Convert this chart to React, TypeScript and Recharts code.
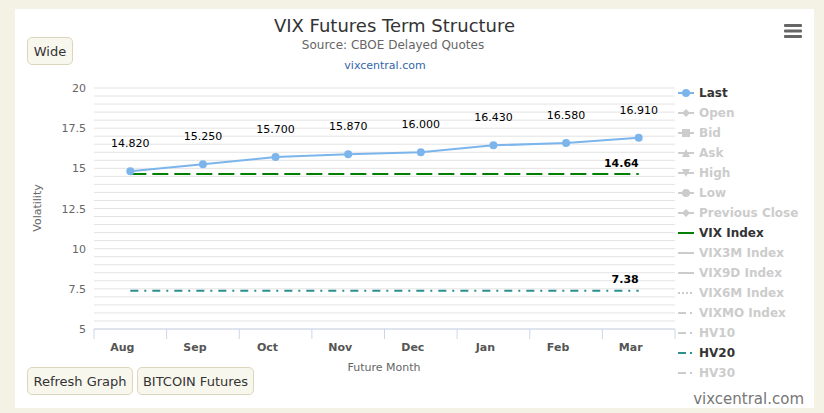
import React from 'react';
import { LineChart, Line, XAxis, YAxis, CartesianGrid, LabelList } from 'recharts';

const months = ['Aug', 'Sep', 'Oct', 'Nov', 'Dec', 'Jan', 'Feb', 'Mar'];
const lastValues = [14.82, 15.25, 15.7, 15.87, 16.0, 16.43, 16.58, 16.91];
const vixIndex = [14.64, 14.64, 14.64, 14.64, 14.64, 14.64, 14.64, 14.64];
const hv20 = [7.38, 7.38, 7.38, 7.38, 7.38, 7.38, 7.38, 7.38];

const yLabelTicks = [5, 7.5, 10, 12.5, 15, 17.5, 20];
const yGridTicks: number[] = [];
for (let v = 5; v <= 20.001; v += 0.5) yGridTicks.push(Math.round(v * 10) / 10);

const legendItems = [
  { name: 'Last', kind: 'circle', active: true, color: '#7cb5ec' },
  { name: 'Open', kind: 'diamond', active: false },
  { name: 'Bid', kind: 'square', active: false },
  { name: 'Ask', kind: 'triangle', active: false },
  { name: 'High', kind: 'triangle-down', active: false },
  { name: 'Low', kind: 'circle', active: false },
  { name: 'Previous Close', kind: 'diamond', active: false },
  { name: 'VIX Index', kind: 'solid', active: true, color: '#008000' },
  { name: 'VIX3M Index', kind: 'solid', active: false },
  { name: 'VIX9D Index', kind: 'solid', active: false },
  { name: 'VIX6M Index', kind: 'dot', active: false },
  { name: 'VIXMO Index', kind: 'dashdot', active: false },
  { name: 'HV10', kind: 'dashdot', active: false },
  { name: 'HV20', kind: 'dashdot', active: true, color: '#2b908f' },
  { name: 'HV30', kind: 'dashdot', active: false },
];

const data = months.map((m, i) => ({
  month: m,
  last: lastValues[i],
  vix: vixIndex[i],
  hv20: hv20[i],
}));

const FONT = '"DejaVu Sans", Verdana, sans-serif';
const BAND = (675 - 94) / months.length;

function XTick(props: any) {
  const { x, y, payload, index } = props;
  return (
    <g>
      <line x1={x - BAND / 2} x2={x - BAND / 2} y1={y - 8} y2={y + 2} stroke="#ccd6eb" />
      {index === months.length - 1 && (
        <line x1={x + BAND / 2} x2={x + BAND / 2} y1={y - 8} y2={y + 2} stroke="#ccd6eb" />
      )}
      <text x={x - 8} y={y + 14} textAnchor="middle" fontSize={11} fontWeight="bold" fill="#555" fontFamily={FONT}>
        {payload.value}
      </text>
    </g>
  );
}

function YTick(props: any) {
  const { x, y, payload } = props;
  if (!yLabelTicks.includes(payload.value)) return null;
  return (
    <text x={x} y={y + 4} textAnchor="end" fontSize={11} fill="#666" fontFamily={FONT}>
      {String(payload.value)}
    </text>
  );
}

function LegendMarker({ kind, color }: { kind: string; color: string }) {
  const c = color;
  let dash: string | undefined;
  if (kind === 'dot') dash = '2 2';
  if (kind === 'dashdot') dash = '8 4 2 4';
  return (
    <svg width={18} height={12} style={{ display: 'block' }}>
      <line x1={0} x2={16} y1={6} y2={6} stroke={c} strokeWidth={2} strokeDasharray={dash} />
      {kind === 'circle' && <circle cx={8} cy={6} r={4} fill={c} />}
      {kind === 'diamond' && <path d="M8 2 L12 6 L8 10 L4 6 Z" fill={c} />}
      {kind === 'square' && <rect x={4} y={2} width={8} height={8} fill={c} />}
      {kind === 'triangle' && <path d="M8 2 L12 10 L4 10 Z" fill={c} />}
      {kind === 'triangle-down' && <path d="M4 2 L12 2 L8 10 Z" fill={c} />}
    </svg>
  );
}

function Button({ label, left, top, width }: { label: string; left: number; top: number; width: number }) {
  return (
    <div
      style={{
        position: 'absolute',
        left,
        top,
        width,
        height: 28,
        boxSizing: 'border-box',
        border: '1px solid #ddd6bd',
        borderRadius: 5,
        background: '#f8f7ee',
        fontFamily: FONT,
        fontSize: 13,
        color: '#333',
        display: 'flex',
        alignItems: 'center',
        justifyContent: 'center',
      }}
    >
      {label}
    </div>
  );
}

export default function App() {
  return (
    <div style={{ position: 'absolute', left: 0, top: 0, width: 824, height: 413, background: '#f4f2e4', overflow: 'hidden' }}>
      <div style={{ position: 'absolute', left: 15, top: 9, width: 799, height: 399, background: '#fff' }} />

      <LineChart
        width={824}
        height={413}
        data={data}
        margin={{ top: 88, right: 149, bottom: 54, left: 34 }}
        style={{ position: 'absolute', left: 0, top: 0 }}
      >
        <CartesianGrid horizontal vertical={false} stroke="#e3e3e3" />
        <XAxis
          dataKey="month"
          height={30}
          stroke="#ccd6eb"
          tickLine={false}
          tick={<XTick />}
          padding={{ left: BAND / 2, right: BAND / 2 }}
          interval={0}
        />
        <YAxis
          width={60}
          domain={[5, 20]}
          ticks={yGridTicks}
          interval={0}
          axisLine={false}
          tickLine={false}
          tick={<YTick />}
          type="number"
        />
        <Line
          dataKey="vix"
          stroke="#008000"
          strokeWidth={2}
          strokeDasharray="16 6"
          dot={false}
          activeDot={false}
          isAnimationActive={false}
        >
          <LabelList
            dataKey="vix"
            content={(p: any) =>
              p.index === months.length - 1 ? (
                <text x={p.x} y={p.y - 7} textAnchor="end" fontSize={11} fontWeight="bold" fill="#000" fontFamily={FONT}>
                  {Number(p.value).toFixed(2)}
                </text>
              ) : null
            }
          />
        </Line>
        <Line
          dataKey="hv20"
          stroke="#2b908f"
          strokeWidth={2}
          strokeDasharray="8 6 2 6"
          dot={false}
          activeDot={false}
          isAnimationActive={false}
        >
          <LabelList
            dataKey="hv20"
            content={(p: any) =>
              p.index === months.length - 1 ? (
                <text x={p.x} y={p.y - 8} textAnchor="end" fontSize={11} fontWeight="bold" fill="#000" fontFamily={FONT}>
                  {Number(p.value).toFixed(2)}
                </text>
              ) : null
            }
          />
        </Line>
        <Line
          dataKey="last"
          stroke="#7cb5ec"
          strokeWidth={2}
          dot={{ r: 4, fill: '#7cb5ec', stroke: 'none' }}
          activeDot={false}
          isAnimationActive={false}
        >
          <LabelList
            dataKey="last"
            content={(p: any) => (
              <text x={p.x} y={p.y - 24} textAnchor="middle" fontSize={11} fill="#000" fontFamily={FONT}>
                {Number(p.value).toFixed(3)}
              </text>
            )}
          />
        </Line>
      </LineChart>

      {/* titles */}
      <div style={{ position: 'absolute', left: 0, width: 789, top: 15, textAlign: 'center', fontFamily: FONT, fontSize: 18, color: '#333' }}>
        VIX Futures Term Structure
      </div>
      <div style={{ position: 'absolute', left: 0, width: 786, top: 38, textAlign: 'center', fontFamily: FONT, fontSize: 12, color: '#666' }}>
        Source: CBOE Delayed Quotes
      </div>
      <div style={{ position: 'absolute', left: 0, width: 770, top: 59, textAlign: 'center', fontFamily: FONT, fontSize: 11, color: '#3366aa' }}>
        vixcentral.com
      </div>

      {/* axis titles */}
      <div
        style={{
          position: 'absolute',
          left: 37,
          top: 208,
          transform: 'translate(-50%, -50%) rotate(-90deg)',
          fontFamily: FONT,
          fontSize: 11,
          color: '#666',
          whiteSpace: 'nowrap',
        }}
      >
        Volatility
      </div>
      <div style={{ position: 'absolute', left: 0, width: 768, top: 361, textAlign: 'center', fontFamily: FONT, fontSize: 11, color: '#666' }}>
        Future Month
      </div>

      {/* legend */}
      <div style={{ position: 'absolute', left: 678, top: 83 }}>
        {legendItems.map((it) => (
          <div key={it.name} style={{ display: 'flex', alignItems: 'center', height: 20 }}>
            <LegendMarker kind={it.kind} color={it.active ? (it.color as string) : '#cccccc'} />
            <span
              style={{
                marginLeft: 3,
                fontFamily: FONT,
                fontSize: 12,
                fontWeight: 'bold',
                color: it.active ? '#333' : '#cccccc',
                whiteSpace: 'nowrap',
              }}
            >
              {it.name}
            </span>
          </div>
        ))}
      </div>

      {/* menu icon */}
      <svg width={20} height={16} style={{ position: 'absolute', left: 783, top: 23 }}>
        <rect x={1} y={1} width={18} height={3} fill="#666" rx={1} />
        <rect x={1} y={6.5} width={18} height={3} fill="#666" rx={1} />
        <rect x={1} y={12} width={18} height={3} fill="#666" rx={1} />
      </svg>

      <Button label="Wide" left={27} top={37} width={46} />
      <Button label="Refresh Graph" left={27} top={367} width={106} />
      <Button label="BITCOIN Futures" left={137} top={367} width={117} />

      <div style={{ position: 'absolute', right: 20, top: 390, fontFamily: FONT, fontSize: 15, color: '#777' }}>vixcentral.com</div>
    </div>
  );
}
